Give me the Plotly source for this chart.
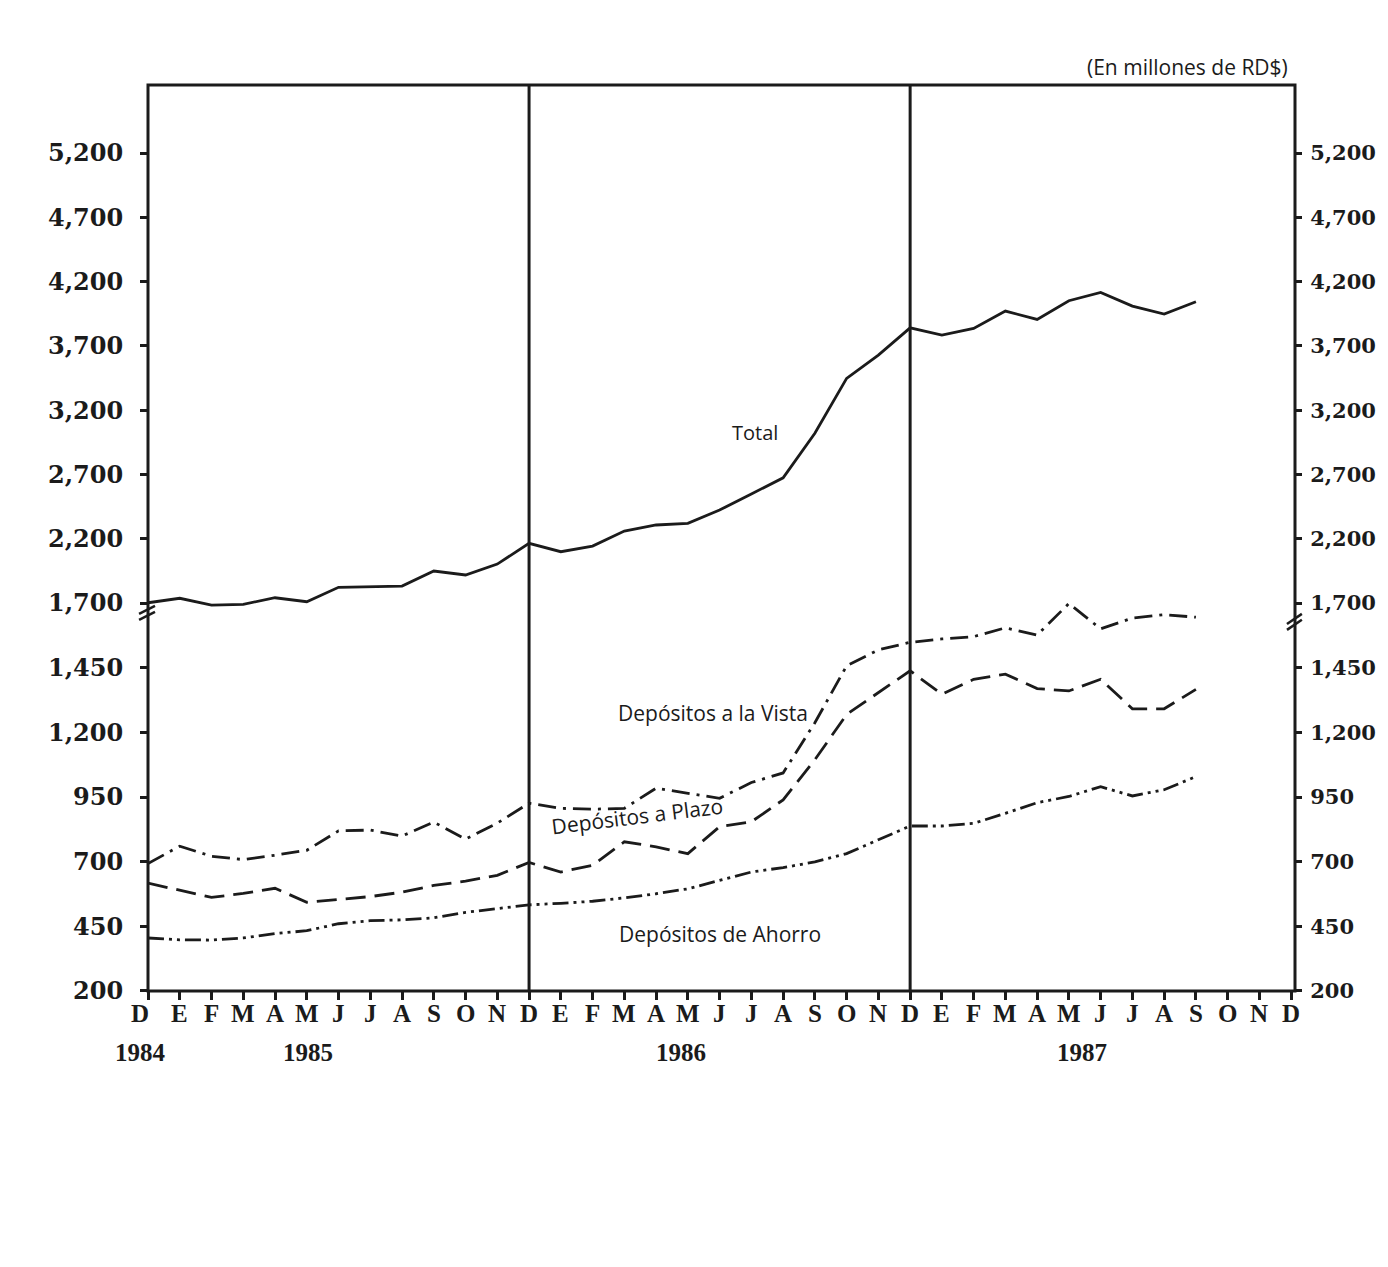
import plotly.graph_objects as go

# ---- data ----
meses = ["D", "E", "F", "M", "A", "M", "J", "J", "A", "S", "O", "N",
         "D", "E", "F", "M", "A", "M", "J", "J", "A", "S", "O", "N",
         "D", "E", "F", "M", "A", "M", "J", "J", "A", "S", "O", "N", "D"]
anios = ["1984", "1985", "1986", "1987"]
anio_pos = [-0.25, 5.05, 16.8, 29.4]

total = [1702, 1737, 1684, 1690, 1741, 1710, 1822, 1827, 1832, 1949, 1918, 2003,
         2164, 2099, 2143, 2260, 2307, 2320, 2423, 2548, 2674, 3020, 3447, 3628,
         3840, 3784, 3836, 3971, 3906, 4051, 4116, 4009, 3947, 4043]
vista = [693, 760, 721, 708, 725, 744, 819, 822, 799, 853, 787, 849,
         926, 906, 903, 906, 984, 965, 945, 1006, 1043, 1237, 1457, 1519,
         1548, 1561, 1570, 1604, 1576, 1698, 1600, 1642, 1655, 1645]
plazo = [617, 589, 562, 577, 597, 543, 554, 565, 582, 608, 625, 647,
         697, 660, 686, 777, 757, 731, 835, 854, 939, 1094, 1269, 1354,
         1438, 1347, 1405, 1425, 1369, 1360, 1405, 1291, 1291, 1366]
ahorro = [405, 398, 397, 405, 422, 433, 460, 472, 475, 483, 504, 518,
          533, 539, 547, 560, 576, 595, 628, 660, 677, 699, 731, 783,
          838, 838, 848, 887, 928, 952, 990, 954, 978, 1029]

ticks_bajo = [200, 450, 700, 950, 1200, 1450]
ticks_alto = [1700, 2200, 2700, 3200, 3700, 4200, 4700, 5200]

x = list(range(len(total)))
INK = "#1b1b1b"
LW = 2.8

fig = go.Figure()
fig.add_trace(go.Scatter(x=x, y=total, mode="lines", yaxis="y2",
                         line=dict(color=INK, width=LW), showlegend=False))
fig.add_trace(go.Scatter(x=x, y=vista, mode="lines", yaxis="y",
                         line=dict(color=INK, width=LW, dash="18px,7px,3px,7px"),
                         showlegend=False))
fig.add_trace(go.Scatter(x=x, y=plazo, mode="lines", yaxis="y",
                         line=dict(color=INK, width=LW, dash="20px,9px"),
                         showlegend=False))
fig.add_trace(go.Scatter(x=x, y=ahorro, mode="lines", yaxis="y",
                         line=dict(color=INK, width=LW,
                                   dash="16px,5px,3px,5px,3px,5px"),
                         showlegend=False))
# invisible companions so the right-hand axes are drawn
fig.add_trace(go.Scatter(x=x, y=vista, mode="lines", yaxis="y3",
                         line=dict(width=0), opacity=0, showlegend=False,
                         hoverinfo="skip"))
fig.add_trace(go.Scatter(x=x, y=total, mode="lines", yaxis="y4",
                         line=dict(width=0), opacity=0, showlegend=False,
                         hoverinfo="skip"))

num_font_l = dict(family="DejaVu Serif", size=24, color=INK, weight="bold")
num_font_r = dict(family="DejaVu Serif", size=21, color=INK, weight="bold")
mes_font = dict(family="Liberation Serif", size=25, color=INK, weight="bold")
txt_font = dict(family="Open Sans", size=21, color=INK)

low_dom = [0, 0.4371]
up_dom = [0.4183, 1]
low_rng = [200, 1731]
up_rng = [1630, 5729]

def yax(**kw):
    base = dict(showgrid=False, zeroline=False, showline=False,
                ticks="outside", ticklen=7, tickwidth=3, tickcolor=INK,
                tickfont=num_font_l, ticklabelstandoff=12, fixedrange=True,
                automargin=False)
    base.update(kw)
    return base

fig.update_layout(
    width=1372, height=1240, autosize=False,
    margin=dict(l=140, r=85, t=77, b=257),
    paper_bgcolor="white", plot_bgcolor="rgba(0,0,0,0)",
    xaxis=dict(range=[0, 36.12], tickmode="array",
               tickvals=list(range(len(meses))), showticklabels=False,
               ticks="outside", ticklen=8, tickwidth=3, tickcolor=INK,
               showgrid=False, zeroline=False, showline=False, anchor="y",
               automargin=False),
    yaxis=yax(domain=low_dom, range=low_rng, tickvals=ticks_bajo,
              ticktext=[f"{v:,}" for v in ticks_bajo], anchor="x"),
    yaxis2=yax(domain=up_dom, range=up_rng, tickvals=ticks_alto,
               ticktext=[f"{v:,}" for v in ticks_alto], anchor="x"),
    yaxis3=yax(overlaying="y", side="right", range=low_rng,
               tickvals=ticks_bajo, ticktext=[f"{v:,}" for v in ticks_bajo],
               anchor="x", tickfont=num_font_r, ticklabelstandoff=4,
               ticklen=6),
    yaxis4=yax(overlaying="y2", side="right", range=up_rng,
               tickvals=ticks_alto, ticktext=[f"{v:,}" for v in ticks_alto],
               anchor="x", tickfont=num_font_r, ticklabelstandoff=4,
               ticklen=6),
)

shapes = [
    dict(type="rect", xref="paper", yref="paper", x0=0, x1=1, y0=0, y1=1,
         line=dict(color=INK, width=3)),
    dict(type="line", xref="x", yref="paper", x0=12, x1=12, y0=0, y1=1,
         line=dict(color=INK, width=3)),
    dict(type="line", xref="x", yref="paper", x0=24, x1=24, y0=0, y1=1,
         line=dict(color=INK, width=3)),
    # axis break marks
    dict(type="line", xref="paper", yref="y", x0=-0.0078, x1=0.0061,
         y0=1658, y1=1689, line=dict(color=INK, width=2.5)),
    dict(type="line", xref="paper", yref="y", x0=-0.0078, x1=0.0061,
         y0=1635, y1=1666, line=dict(color=INK, width=2.5)),
    dict(type="line", xref="paper", yref="y", x0=0.993, x1=1.006,
         y0=1619, y1=1658, line=dict(color=INK, width=2.5)),
    dict(type="line", xref="paper", yref="y", x0=0.993, x1=1.006,
         y0=1596, y1=1635, line=dict(color=INK, width=2.5)),
]
fig.update_layout(shapes=shapes)

ann = [
    dict(text="Total", x=19.1, y=3030, xref="x", yref="y2",
         font=dict(family="Open Sans", size=20, color=INK)),
    dict(text="Depósitos a la Vista", x=17.8, y=1275, xref="x", yref="y"),
    dict(text="Depósitos a Plazo", x=15.4, y=875, xref="x", yref="y",
         textangle=-7),
    dict(text="Depósitos de Ahorro", x=18.0, y=420, xref="x", yref="y"),
    dict(text="(En millones de RD$)", x=1.0, y=1, xref="paper", yref="paper",
         xanchor="right", yanchor="bottom", yshift=2, xshift=-5),
]
for a in ann:
    a.setdefault("xanchor", "center")
    a.setdefault("yanchor", "middle")
    a.setdefault("font", txt_font)
    fig.add_annotation(showarrow=False, **a)

# month letters under the ticks
for i, m in enumerate(meses):
    fig.add_annotation(text=m, x=i, y=0, xref="x", yref="paper",
                       yshift=-22, xshift=(-8 if i == 0 else 0),
                       xanchor="center", yanchor="middle",
                       showarrow=False, font=mes_font)

# year labels (1984 sits just left of the plot edge)
for yr, pos in zip(anios, anio_pos):
    fig.add_annotation(text=yr, x=max(pos, 0) / 36.12, y=0, xref="paper",
                       yref="paper", yshift=-61,
                       xshift=(pos * 31.75 if pos < 0 else 0),
                       xanchor="center", yanchor="middle",
                       showarrow=False, font=mes_font)

fig.write_html("out.html")
